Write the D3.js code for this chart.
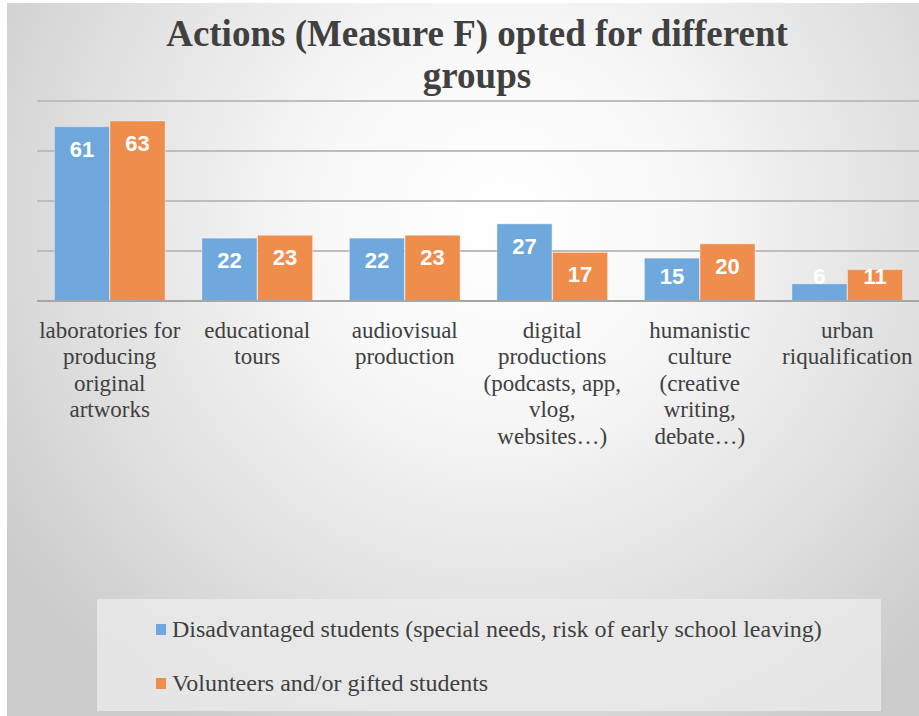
<!DOCTYPE html>
<html>
<head>
<meta charset="utf-8">
<script src="https://cdn.jsdelivr.net/npm/d3@7"></script>
<style>
  html, body { margin: 0; padding: 0; background: #fff; }
  svg { display: block; }
  .serif { font-family: "Liberation Serif", "DejaVu Serif", "Times New Roman", Times, serif; }
  .sans { font-family: "Liberation Sans", Arial, Helvetica, sans-serif; }
</style>
</head>
<body>
<div id="chart"></div>
<script>
// 数据
const categories = [
  ["laboratories for", "producing", "original", "artworks"],
  ["educational", "tours"],
  ["audiovisual", "production"],
  ["digital", "productions", "(podcasts, app,", "vlog,", "websites…)"],
  ["humanistic", "culture", "(creative", "writing,", "debate…)"],
  ["urban", "riqualification"]
];
const seriesNames = [
  "Disadvantaged students (special needs, risk of early school leaving)",
  "Volunteers and/or gifted students"
];
const disadvantaged = [61, 22, 22, 27, 15, 6];
const volunteers = [63, 23, 23, 17, 20, 11];
const gridValues = [17.5, 35, 52.5, 70];
const titleLines = ["Actions (Measure F) opted for different", "groups"];

const width = 919, height = 716;
const colors = ["#6fa8dc", "#ef8d4d"];

const svg = d3.select('#chart').append('svg')
  .attr('width', width)
  .attr('height', height);

// 背景渐变
const defs = svg.append('defs');
const grad = defs.append('radialGradient')
  .attr('id', 'bg')
  .attr('gradientUnits', 'userSpaceOnUse')
  .attr('cx', 500).attr('cy', 220)
  .attr('fx', 500).attr('fy', 220)
  .attr('r', 600);
grad.append('stop').attr('offset', 0).attr('stop-color', '#ffffff');
grad.append('stop').attr('offset', 0.3).attr('stop-color', '#f8f8f8');
grad.append('stop').attr('offset', 0.7).attr('stop-color', '#e0e0e0');
grad.append('stop').attr('offset', 1).attr('stop-color', '#cbcbcb');

svg.append('rect')
  .attr('x', 7).attr('y', 3)
  .attr('width', width - 7).attr('height', height - 3)
  .attr('fill', 'url(#bg)');

// 标题
svg.append('text')
  .attr('class', 'serif')
  .attr('text-anchor', 'middle')
  .attr('font-weight', 'bold')
  .attr('font-size', 37)
  .attr('fill', '#404040')
  .selectAll('tspan')
  .data(titleLines)
  .enter()
  .append('tspan')
  .attr('x', 477)
  .attr('y', (d, i) => 46 + i * 42)
  .text(d => d);

// 比例尺
const x0 = d3.scaleBand()
  .domain(d3.range(categories.length))
  .range([36, 921])
  .paddingInner(0.25)
  .paddingOuter(0.125);

const x1 = d3.scaleBand()
  .domain([0, 1])
  .range([0, x0.bandwidth()])
  .paddingInner(0.01);

const y = d3.scaleLinear()
  .domain([0, 70])
  .range([301, 101]);

// 网格线
svg.append('g')
  .selectAll('line')
  .data(gridValues)
  .enter()
  .append('line')
  .attr('x1', 37).attr('x2', width)
  .attr('y1', d => y(d)).attr('y2', d => y(d))
  .attr('stroke', '#bdbdbd')
  .attr('stroke-width', 2);

// 柱子
const rows = categories.map((c, i) => [disadvantaged[i], volunteers[i]]);
const groups = svg.append('g')
  .selectAll('g')
  .data(rows)
  .enter()
  .append('g')
  .attr('transform', (d, i) => `translate(${x0(i)},0)`);

groups.selectAll('rect')
  .data(d => d)
  .enter()
  .append('rect')
  .attr('x', (d, j) => x1(j))
  .attr('y', d => y(d))
  .attr('width', x1.bandwidth())
  .attr('height', d => y(0) - y(d))
  .attr('fill', (d, j) => colors[j])
  .attr('stroke', 'rgba(255,255,255,0.35)')
  .attr('stroke-width', 1);

// 数值标签
groups.selectAll('text')
  .data(d => d)
  .enter()
  .append('text')
  .attr('class', 'sans')
  .attr('x', (d, j) => x1(j) + x1.bandwidth() / 2)
  .attr('y', d => Math.min(y(d) + 30, y(0) - 17))
  .attr('text-anchor', 'middle')
  .attr('font-weight', 'bold')
  .attr('font-size', 22)
  .attr('fill', '#ffffff')
  .text(d => d);

// 基线
svg.append('line')
  .attr('x1', 37).attr('x2', width)
  .attr('y1', y(0)).attr('y2', y(0))
  .attr('stroke', '#a6a6a6')
  .attr('stroke-width', 2);

// 分类标签
svg.append('g')
  .selectAll('text')
  .data(categories)
  .enter()
  .append('text')
  .attr('class', 'serif')
  .attr('text-anchor', 'middle')
  .attr('font-size', 23)
  .attr('fill', '#404040')
  .each(function(lines, i) {
    d3.select(this).selectAll('tspan')
      .data(lines)
      .enter()
      .append('tspan')
      .attr('x', x0(i) + x0.bandwidth() / 2)
      .attr('y', (d, k) => 338 + k * 26.4)
      .text(d => d);
  });

// 图例
svg.append('rect')
  .attr('x', 97).attr('y', 599)
  .attr('width', 784).attr('height', 112)
  .attr('fill', '#ebebeb')
  .attr('opacity', 0.8);

const legend = svg.append('g')
  .selectAll('g')
  .data(seriesNames)
  .enter()
  .append('g')
  .attr('transform', (d, i) => `translate(156,${629 + i * 54})`);

legend.append('rect')
  .attr('x', 0).attr('y', -5)
  .attr('width', 10).attr('height', 11)
  .attr('fill', (d, i) => colors[i]);

legend.append('text')
  .attr('class', 'serif')
  .attr('x', 16).attr('y', 8)
  .attr('font-size', 24)
  .attr('fill', '#404040')
  .text(d => d);
</script>
</body>
</html>
